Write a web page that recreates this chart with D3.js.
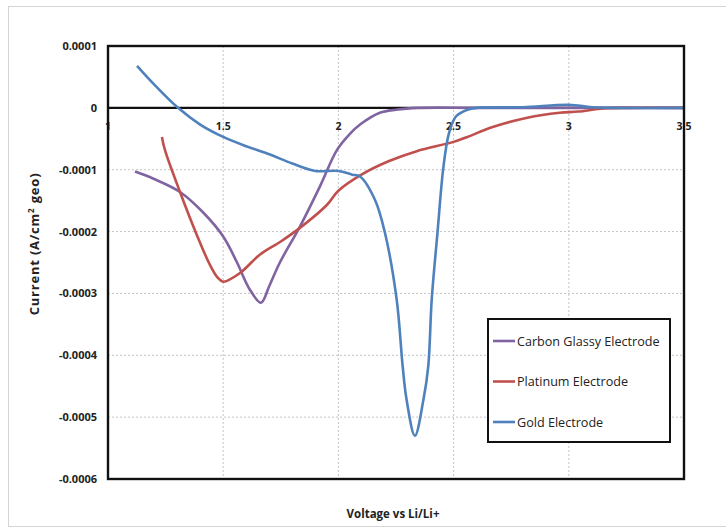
<!DOCTYPE html>
<html>
<head>
<meta charset="utf-8">
<script src="https://cdn.jsdelivr.net/npm/d3@7"></script>
<style>
  body { margin: 0; background: #fff; }
  svg text { font-family: "Open Sans", "Liberation Sans", sans-serif; }
</style>
</head>
<body>
<div id="chart"></div>
<script>
// data (voltage vs Li/Li+, current in A/cm2 geo)
const carbonV = [1.117, 1.2, 1.3125, 1.41, 1.5, 1.56, 1.616, 1.664, 1.7, 1.746, 1.833, 1.92, 1.994, 2.05, 2.094, 2.18, 2.25, 2.35, 2.6, 3.0, 3.5];
const carbonI = [-0.000103, -0.000115, -0.000136, -0.000168, -0.000208, -0.00025, -0.000294, -0.000315, -0.000288, -0.00025, -0.000192, -0.000127, -0.000068, -0.000042, -0.000027, -0.000008, -0.000003, 0, 0, 0, 0];

const platinumV = [1.234, 1.247, 1.3125, 1.385, 1.44, 1.475, 1.5, 1.573, 1.66, 1.75, 1.833, 1.95, 2.0, 2.1, 2.22, 2.34, 2.5, 2.56, 2.67, 2.82, 2.96, 3.04, 3.15, 3.25, 3.5];
const platinumI = [-0.000047, -0.000068, -0.000136, -0.000205, -0.000252, -0.000274, -0.000281, -0.000267, -0.000237, -0.000216, -0.000194, -0.000157, -0.000134, -0.000108, -0.000086, -0.00007, -0.000055, -0.000047, -0.000031, -0.000016, -0.000008, -0.000006, -0.000001, 0, 0];

const goldV = [1.126, 1.2, 1.304, 1.4, 1.5, 1.6, 1.7, 1.8, 1.9, 2.0, 2.06, 2.094, 2.159, 2.202, 2.253, 2.279, 2.296, 2.332, 2.369, 2.39, 2.405, 2.43, 2.456, 2.48, 2.51, 2.56, 2.6, 2.8, 3.0, 3.1, 3.2, 3.5];
const goldI = [0.000068, 0.000038, 0, -0.000027, -0.000047, -0.000062, -0.000075, -0.00009, -0.000102, -0.000102, -0.000108, -0.000111, -0.000149, -0.000202, -0.00031, -0.000418, -0.000472, -0.00053, -0.000472, -0.000418, -0.00031, -0.000202, -0.000095, -0.000041, -0.000014, -0.000003, 0, 0.000001, 0.000005, 0.000001, 0, 0];

const seriesNames = ["Carbon Glassy Electrode", "Platinum Electrode", "Gold Electrode"];
const seriesColors = ["#8064A2", "#C0504D", "#4F81BD"];

const xTicks = [1, 1.5, 2, 2.5, 3, 3.5];
const yTicks = [0.0001, 0, -0.0001, -0.0002, -0.0003, -0.0004, -0.0005, -0.0006];

//set up SVG
const width = 726, height = 529;
const plot = { left: 108, top: 46, right: 684, bottom: 479 };

let svg = d3.select("#chart")
            .append("svg")
            .attr("width", width)
            .attr("height", height);

// outer light frame
svg.append("rect")
   .attr("x", 8.5).attr("y", 6.5)
   .attr("width", 740).attr("height", 520)
   .attr("fill", "none")
   .attr("stroke", "#d4d4d4");

let x = d3.scaleLinear().domain([1, 3.5]).range([plot.left, plot.right]);
let y = d3.scaleLinear().domain([-0.0006, 0.0001]).range([plot.bottom, plot.top]);

//gridlines
svg.append("g")
   .selectAll("line")
   .data(xTicks.slice(1, -1))
   .enter()
   .append("line")
   .attr("x1", d => x(d)).attr("x2", d => x(d))
   .attr("y1", plot.top).attr("y2", plot.bottom)
   .style("stroke", "#c4c4c4")
   .style("stroke-dasharray", "2,2");
svg.append("g")
   .selectAll("line")
   .data(yTicks.filter(d => d < 0 && d > -0.0006))
   .enter()
   .append("line")
   .attr("x1", plot.left).attr("x2", plot.right)
   .attr("y1", d => y(d)).attr("y2", d => y(d))
   .style("stroke", "#c4c4c4")
   .style("stroke-dasharray", "2,2");

// y axis labels
svg.append("g")
   .selectAll("text")
   .data(yTicks)
   .enter()
   .append("text")
   .attr("x", 97)
   .attr("y", d => y(d) + 4)
   .style("text-anchor", "end")
   .style("font-size", "11px")
   .style("font-weight", "bold")
   .style("fill", "#222")
   .text(d => d === 0 ? "0" : d.toFixed(4));

// x axis labels (sit under the zero line)
svg.append("g")
   .selectAll("text")
   .data(xTicks)
   .enter()
   .append("text")
   .attr("x", d => x(d))
   .attr("y", y(0) + 22)
   .style("text-anchor", "middle")
   .style("font-size", "10.5px")
   .style("font-weight", "bold")
   .style("fill", "#222")
   .text(d => d);

// lines
let line = d3.line()
             .x(d => x(d[0]))
             .y(d => y(d[1]))
             .curve(d3.curveCatmullRom.alpha(0.5));

const series = [
  d3.zip(carbonV, carbonI),
  d3.zip(platinumV, platinumI),
  d3.zip(goldV, goldI)
];

// zero line
svg.append("line")
   .attr("x1", plot.left).attr("x2", plot.right)
   .attr("y1", y(0)).attr("y2", y(0))
   .style("stroke", "#111")
   .style("stroke-width", 2.2);

svg.append("g")
   .selectAll("path")
   .data(series)
   .enter()
   .append("path")
   .attr("d", line)
   .attr("fill", "none")
   .style("stroke", (d, i) => seriesColors[i])
   .style("stroke-width", 2.6);

// plot frame
svg.append("rect")
   .attr("x", plot.left).attr("y", plot.top)
   .attr("width", plot.right - plot.left)
   .attr("height", plot.bottom - plot.top)
   .attr("fill", "none")
   .style("stroke", "#111")
   .style("stroke-width", 2.4);

// axis titles
svg.append("text")
   .attr("x", 393).attr("y", 518)
   .style("text-anchor", "middle")
   .style("font-size", "11.5px")
   .style("font-weight", "bold")
   .style("fill", "#222")
   .text("Voltage vs Li/Li+");

let ytitle = svg.append("text")
   .attr("transform", "translate(39,244) rotate(-90)")
   .style("text-anchor", "middle")
   .style("font-size", "13px")
   .style("letter-spacing", "0.8px")
   .style("font-weight", "bold")
   .style("fill", "#222");
ytitle.append("tspan").text("Current  (A/cm");
ytitle.append("tspan").attr("dy", -5).style("font-size", "8px").text("2");
ytitle.append("tspan").attr("dy", 5).text(" geo)");

// legend
let legend = svg.append("g");
legend.append("rect")
      .attr("x", 488).attr("y", 319)
      .attr("width", 182).attr("height", 123)
      .attr("fill", "#fff")
      .style("stroke", "#111")
      .style("stroke-width", 2);
seriesNames.forEach(function(name, i) {
  let ly = 341 + i * 40.5;
  legend.append("line")
        .attr("x1", 493).attr("x2", 515)
        .attr("y1", ly).attr("y2", ly)
        .style("stroke", seriesColors[i])
        .style("stroke-width", 2.6);
  legend.append("text")
        .attr("x", 517).attr("y", ly + 4.5)
        .style("font-size", "12.6px")
        .style("fill", "#222")
        .text(name);
});
</script>
</body>
</html>
